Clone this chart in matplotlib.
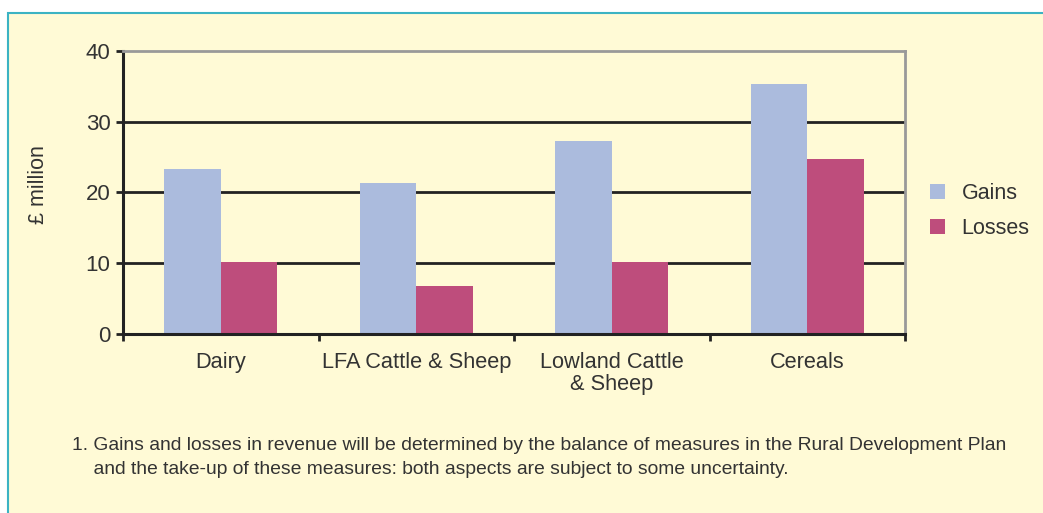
import matplotlib.pyplot as plt
import numpy as np
from matplotlib.patches import Rectangle

categories = ["Dairy", "LFA Cattle & Sheep", "Lowland Cattle\n& Sheep", "Cereals"]
gains = [23.3, 21.3, 27.3, 35.3]
losses = [10.2, 6.8, 10.2, 24.7]
y_ticks = [0, 10, 20, 30, 40]
footnote = ("1. Gains and losses in revenue will be determined by the balance of measures in the Rural Development Plan\n"
            "    and the take-up of these measures: both aspects are subject to some uncertainty.")

bg = "#fffad6"
txt = "#333333"
plt.rcParams['font.family'] = ['Liberation Sans', 'DejaVu Sans']

fig = plt.figure(figsize=(10.43, 5.13), dpi=100)
fig.patch.set_facecolor("white")

# outer frame
fig.patches.append(Rectangle((8 / 1043, -0.05), 1.1, 1 - 13 / 513 + 0.05,
                             transform=fig.transFigure, facecolor=bg,
                             edgecolor="#3bb3c3", linewidth=1.5, zorder=-10))

ax = fig.add_axes([123 / 1043, 1 - 334 / 513, (905 - 123) / 1043, (334 - 50.7) / 513])
ax.set_facecolor(bg)
ax.set_zorder(1)

x = np.arange(len(categories))
w = 0.29
ax.bar(x - w / 2, gains, w, color="#abbbdd", label="Gains", zorder=2)
ax.bar(x + w / 2, losses, w, color="#be4d7c", label="Losses", zorder=2)

ax.set_xlim(-0.5, len(categories) - 0.5)
ax.set_ylim(0, 40)
ax.set_yticks(y_ticks)
ax.set_yticklabels([str(v) for v in y_ticks], fontsize=16, color=txt)
for v in y_ticks[1:-1]:
    ax.axhline(v, color="#222222", linewidth=2, zorder=1)

# category labels between boundary ticks
ax.set_xticks(np.arange(len(categories) + 1) - 0.5)
ax.set_xticklabels([])
ax.set_xticks(x, minor=True)
ax.set_xticklabels(categories, minor=True, fontsize=15.7, color=txt, linespacing=1.05)
ax.tick_params(axis="x", which="minor", length=0, pad=13)
ax.tick_params(axis="x", which="major", length=5, width=2, color="#222222")
ax.tick_params(axis="y", length=5, width=2, color="#222222", pad=4)

for s in ["left", "bottom"]:
    ax.spines[s].set_color("#222222")
    ax.spines[s].set_linewidth(2.2)
for s in ["top", "right"]:
    ax.spines[s].set_color("#999999")
    ax.spines[s].set_linewidth(2)

fig.text(38 / 1043, 1 - 185 / 513, "£ million", rotation=90, ha="center", va="center",
         fontsize=15.5, color=txt)

leg = fig.legend(loc="upper left", bbox_to_anchor=(911 / 1043, 1 - 164 / 513), frameon=False,
                 fontsize=15.5, labelcolor=txt, handlelength=0.7, handleheight=0.7,
                 handletextpad=0.75, labelspacing=0.62)

fig.text(72 / 1043, 1 - 437 / 513, footnote, ha="left", va="top", fontsize=13.85,
         color=txt, linespacing=1.55)

fig.savefig("out.png", dpi=100, facecolor=fig.get_facecolor())
